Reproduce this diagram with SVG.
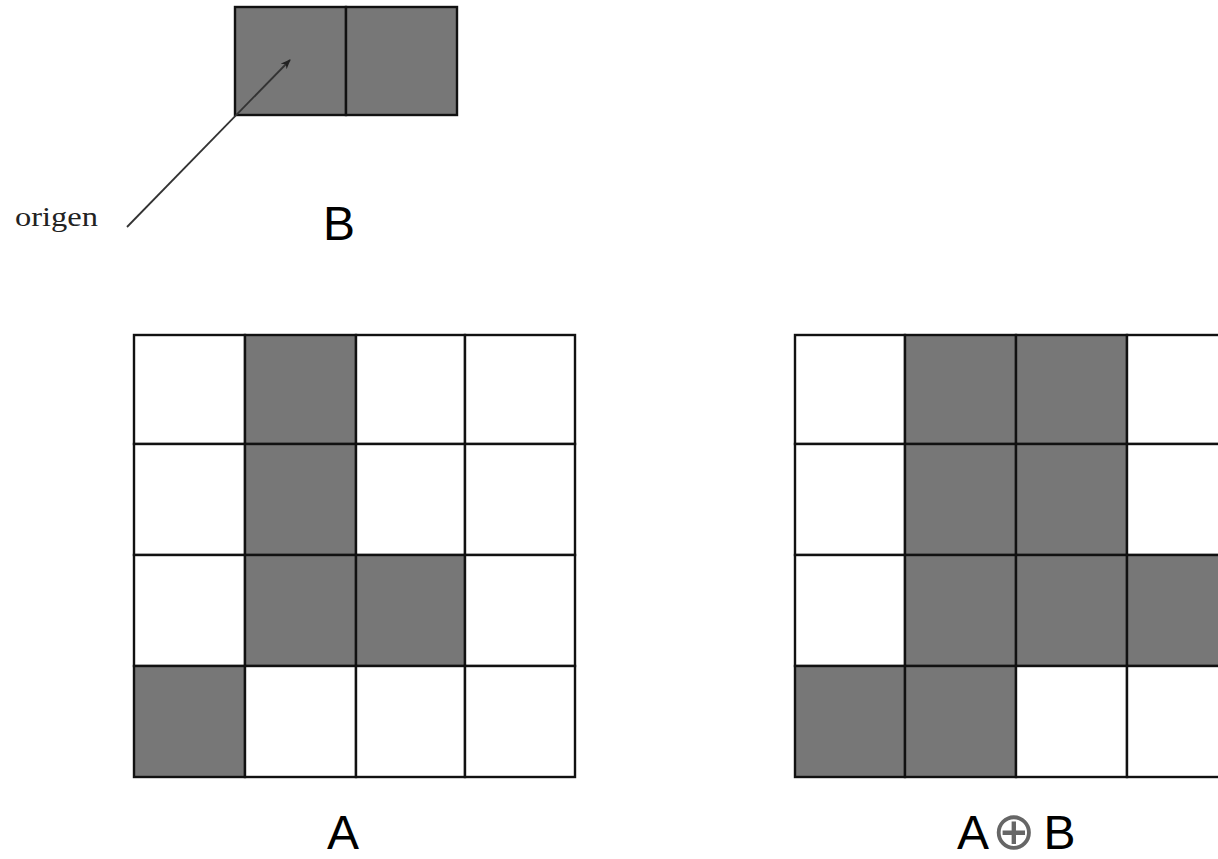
<svg xmlns="http://www.w3.org/2000/svg" width="1218" height="859" viewBox="0 0 1218 859">
<style>
.cell{stroke:#111;stroke-width:2.4}
.on{fill:#777777}
.off{fill:#ffffff}
.lbl{font-family:"Liberation Sans",Arial,sans-serif;font-size:48px;fill:#000}
.org{font-family:"Liberation Serif","Times New Roman",serif;font-size:27px;fill:#222}
</style>
<defs>
<marker id="ah" viewBox="0 0 10 10" refX="9" refY="5" markerWidth="10" markerHeight="10" markerUnits="userSpaceOnUse" orient="auto">
<path d="M0,1 L10,5 L0,9 L3,5 Z" fill="#222"/>
</marker>
</defs>
<rect width="1218" height="859" fill="#fff"/>
<g id="B">
<rect class="cell on" x="235" y="7" width="111" height="108"/>
<rect class="cell on" x="346" y="7" width="111" height="108"/>
</g>
<g id="connectors">
<line x1="127" y1="227" x2="290" y2="60" stroke="#333" stroke-width="1.8" marker-end="url(#ah)"/>
</g>
<g id="origen-label"><text class="org" x="15" y="226" textLength="83" lengthAdjust="spacingAndGlyphs">origen</text></g>
<g id="B-label"><text class="lbl" x="323" y="240">B</text></g>
<g id="A">
<rect class="cell off" x="134" y="335" width="111" height="109"/>
<rect class="cell on" x="245" y="335" width="111" height="109"/>
<rect class="cell off" x="356" y="335" width="109" height="109"/>
<rect class="cell off" x="465" y="335" width="110" height="109"/>
<rect class="cell off" x="134" y="444" width="111" height="111"/>
<rect class="cell on" x="245" y="444" width="111" height="111"/>
<rect class="cell off" x="356" y="444" width="109" height="111"/>
<rect class="cell off" x="465" y="444" width="110" height="111"/>
<rect class="cell off" x="134" y="555" width="111" height="111"/>
<rect class="cell on" x="245" y="555" width="111" height="111"/>
<rect class="cell on" x="356" y="555" width="109" height="111"/>
<rect class="cell off" x="465" y="555" width="110" height="111"/>
<rect class="cell on" x="134" y="666" width="111" height="111"/>
<rect class="cell off" x="245" y="666" width="111" height="111"/>
<rect class="cell off" x="356" y="666" width="109" height="111"/>
<rect class="cell off" x="465" y="666" width="110" height="111"/>
</g>
<g id="A-label"><text class="lbl" x="327" y="849">A</text></g>
<g id="AB">
<rect class="cell off" x="795" y="335" width="110" height="109"/>
<rect class="cell on" x="905" y="335" width="111" height="109"/>
<rect class="cell on" x="1016" y="335" width="111" height="109"/>
<rect class="cell off" x="1127" y="335" width="111" height="109"/>
<rect class="cell off" x="795" y="444" width="110" height="111"/>
<rect class="cell on" x="905" y="444" width="111" height="111"/>
<rect class="cell on" x="1016" y="444" width="111" height="111"/>
<rect class="cell off" x="1127" y="444" width="111" height="111"/>
<rect class="cell off" x="795" y="555" width="110" height="111"/>
<rect class="cell on" x="905" y="555" width="111" height="111"/>
<rect class="cell on" x="1016" y="555" width="111" height="111"/>
<rect class="cell on" x="1127" y="555" width="111" height="111"/>
<rect class="cell on" x="795" y="666" width="110" height="111"/>
<rect class="cell on" x="905" y="666" width="111" height="111"/>
<rect class="cell off" x="1016" y="666" width="111" height="111"/>
<rect class="cell off" x="1127" y="666" width="111" height="111"/>
</g>
<g id="AB-label"><text class="lbl" x="957" y="849">A<tspan font-family="DejaVu Sans,sans-serif" font-size="52" fill="#666" dx="3">⊕</tspan><tspan dx="8">B</tspan></text></g>
</svg>
